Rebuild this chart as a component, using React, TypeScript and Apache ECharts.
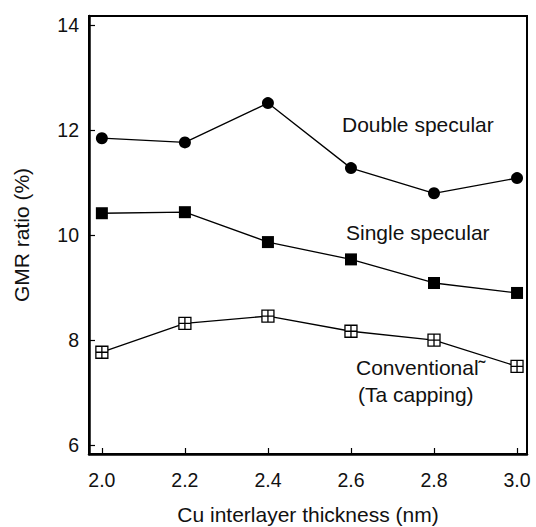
import React, { useEffect, useRef } from "react";
import * as echarts from "echarts";

const xValues = [2.0, 2.2, 2.4, 2.6, 2.8, 3.0];
const doubleSpecular = [11.85, 11.77, 12.52, 11.28, 10.8, 11.09];
const singleSpecular = [10.42, 10.44, 9.87, 9.54, 9.09, 8.9];
const conventional = [7.77, 8.32, 8.46, 8.17, 8.0, 7.5];
const xTicks = [2.0, 2.2, 2.4, 2.6, 2.8, 3.0];
const yTicks = [6, 8, 10, 12, 14];

const FONT = "'Liberation Sans', Arial, sans-serif";

export default function App() {
  const ref = useRef<HTMLDivElement>(null);
  useEffect(() => {
    if (!ref.current) return;
    const chart = echarts.init(ref.current, null, { renderer: "svg" });
    const pair = (ys: number[]) => xValues.map((x, i) => [x, ys[i]]);
    const lineStyle = { color: "#000", width: 1.3 };
    chart.setOption({
      animation: false,
      backgroundColor: "#fff",
      grid: {
        left: 89,
        right: 9,
        top: 16,
        bottom: 73,
        outerBoundsMode: "none",
        containLabel: false,
        show: true,
        borderColor: "#000",
        borderWidth: 2,
        backgroundColor: "transparent",
      },
      xAxis: {
        type: "value",
        min: 1.969,
        max: 3.024,
        name: "Cu interlayer thickness (nm)",
        nameLocation: "middle",
        nameGap: 50,
        nameTextStyle: { fontFamily: FONT, fontSize: 21, color: "#111" },
        axisLine: { show: true, lineStyle: { color: "#000", width: 2.5 } },
        axisTick: { show: true, inside: true, length: 6, lineStyle: { color: "#000", width: 1.2 }, customValues: xTicks },
        axisLabel: {
          fontFamily: FONT,
          fontSize: 19.5,
          color: "#111",
          margin: 16,
          customValues: xTicks,
          formatter: (v: number) => v.toFixed(1),
        },
        splitLine: { show: false },
      },
      yAxis: {
        type: "value",
        min: 5.83,
        max: 14.18,
        name: "GMR ratio (%)",
        nameLocation: "middle",
        nameGap: 57,
        nameTextStyle: { fontFamily: FONT, fontSize: 21, color: "#111" },
        axisLine: { show: true, lineStyle: { color: "#000", width: 2.5 } },
        axisTick: { show: true, inside: true, length: 6, lineStyle: { color: "#000", width: 1.2 }, customValues: yTicks },
        axisLabel: {
          fontFamily: FONT,
          fontSize: 19.5,
          color: "#111",
          margin: 10,
          padding: [6, 0, 0, 0],
          customValues: yTicks,
        },
        splitLine: { show: false },
      },
      series: [
        {
          type: "line",
          name: "Double specular",
          data: pair(doubleSpecular),
          symbol: "circle",
          symbolSize: 12,
          lineStyle,
          itemStyle: { color: "#000" },
        },
        {
          type: "line",
          name: "Single specular",
          data: pair(singleSpecular),
          symbol: "rect",
          symbolSize: 12,
          lineStyle,
          itemStyle: { color: "#000" },
        },
        {
          type: "line",
          name: "Conventional",
          data: pair(conventional),
          symbol: "path://M0,0H12V12H0Z M6,0V12 M0,6H12",
          symbolSize: 12,
          symbolKeepAspect: true,
          lineStyle,
          itemStyle: { color: "#fff", borderColor: "#000", borderWidth: 1.3 },
          z: 3,
        },
      ],
      graphic: [
        {
          type: "text",
          left: 342,
          top: 114,
          style: { text: "Double specular", font: `21px ${FONT}`, fill: "#111" },
        },
        {
          type: "text",
          left: 346,
          top: 222,
          style: { text: "Single specular", font: `21px ${FONT}`, fill: "#111" },
        },
        {
          type: "text",
          left: 356,
          top: 357,
          style: { text: "Conventional˜", font: `21px ${FONT}`, fill: "#111" },
        },
        {
          type: "text",
          left: 358,
          top: 384,
          style: { text: "(Ta capping)", font: `21px ${FONT}`, fill: "#111" },
        },
      ],
    });
    return () => chart.dispose();
  }, []);
  return <div ref={ref} style={{ width: 536, height: 527, position: "absolute", left: 0, top: 0 }} />;
}
